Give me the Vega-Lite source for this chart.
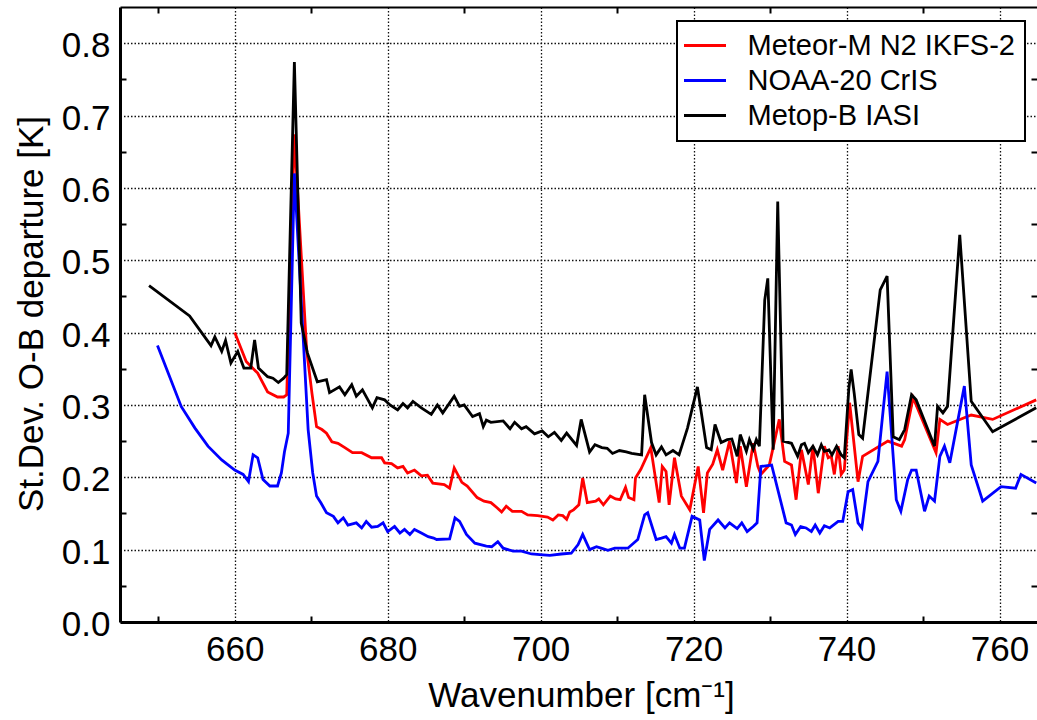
{
  "$schema": "https://vega.github.io/schema/vega-lite/v6.json",
  "width": 917,
  "height": 615,
  "autosize": "none",
  "padding": {"left": 120, "top": 7, "right": 0, "bottom": 98},
  "background": "white",
  "config": {
    "view": {"stroke": null},
    "font": "Liberation Sans",
    "axis": {"labelColor": "black", "titleColor": "black", "titleFontWeight": "normal", "labelFont": "Liberation Sans", "titleFont": "Liberation Sans"},
    "legend": {"strokeWidth": 2}
  },
  "datasets": {
    "ikfs": [
      {"wn":660.0,"sd":0.400},{"wn":661.5,"sd":0.360},{"wn":663.0,"sd":0.344},{"wn":664.3,"sd":0.318},{"wn":665.6,"sd":0.311},{"wn":666.4,"sd":0.311},{"wn":666.8,"sd":0.314},{"wn":667.8,"sd":0.674},{"wn":669.4,"sd":0.376},{"wn":670.1,"sd":0.316},{"wn":670.7,"sd":0.270},{"wn":671.4,"sd":0.266},{"wn":672.0,"sd":0.261},{"wn":672.7,"sd":0.249},{"wn":673.5,"sd":0.247},{"wn":674.4,"sd":0.241},{"wn":675.4,"sd":0.234},{"wn":676.6,"sd":0.234},{"wn":677.9,"sd":0.227},{"wn":679.2,"sd":0.227},{"wn":679.6,"sd":0.220},{"wn":680.5,"sd":0.219},{"wn":681.3,"sd":0.213},{"wn":682.0,"sd":0.215},{"wn":682.6,"sd":0.206},{"wn":683.5,"sd":0.210},{"wn":684.4,"sd":0.202},{"wn":685.2,"sd":0.203},{"wn":685.9,"sd":0.192},{"wn":687.4,"sd":0.190},{"wn":688.1,"sd":0.185},{"wn":688.7,"sd":0.213},{"wn":689.7,"sd":0.193},{"wn":690.4,"sd":0.188},{"wn":691.7,"sd":0.172},{"wn":692.6,"sd":0.167},{"wn":693.5,"sd":0.165},{"wn":694.3,"sd":0.158},{"wn":694.9,"sd":0.152},{"wn":695.5,"sd":0.160},{"wn":696.3,"sd":0.153},{"wn":697.5,"sd":0.153},{"wn":698.3,"sd":0.148},{"wn":699.6,"sd":0.147},{"wn":700.9,"sd":0.145},{"wn":701.6,"sd":0.141},{"wn":702.3,"sd":0.148},{"wn":702.9,"sd":0.147},{"wn":703.4,"sd":0.142},{"wn":703.8,"sd":0.152},{"wn":704.3,"sd":0.155},{"wn":705.0,"sd":0.162},{"wn":705.5,"sd":0.199},{"wn":706.1,"sd":0.165},{"wn":707.2,"sd":0.167},{"wn":707.6,"sd":0.170},{"wn":708.2,"sd":0.162},{"wn":709.1,"sd":0.174},{"wn":709.8,"sd":0.170},{"wn":710.4,"sd":0.169},{"wn":711.1,"sd":0.186},{"wn":711.5,"sd":0.172},{"wn":712.2,"sd":0.169},{"wn":712.4,"sd":0.199},{"wn":713.1,"sd":0.211},{"wn":714.4,"sd":0.241},{"wn":715.5,"sd":0.165},{"wn":715.9,"sd":0.215},{"wn":716.4,"sd":0.208},{"wn":716.8,"sd":0.162},{"wn":717.5,"sd":0.227},{"wn":718.4,"sd":0.174},{"wn":719.5,"sd":0.155},{"wn":720.6,"sd":0.215},{"wn":721.3,"sd":0.151},{"wn":721.8,"sd":0.206},{"wn":722.5,"sd":0.218},{"wn":723.1,"sd":0.238},{"wn":723.8,"sd":0.210},{"wn":724.7,"sd":0.250},{"wn":725.6,"sd":0.192},{"wn":726.1,"sd":0.243},{"wn":726.9,"sd":0.187},{"wn":727.8,"sd":0.247},{"wn":728.4,"sd":0.215},{"wn":728.8,"sd":0.204},{"wn":729.9,"sd":0.217},{"wn":731.2,"sd":0.280},{"wn":731.9,"sd":0.222},{"wn":732.8,"sd":0.217},{"wn":733.4,"sd":0.169},{"wn":734.1,"sd":0.238},{"wn":735.0,"sd":0.190},{"wn":735.6,"sd":0.243},{"wn":736.3,"sd":0.178},{"wn":737.1,"sd":0.243},{"wn":737.6,"sd":0.227},{"wn":738.0,"sd":0.229},{"wn":738.4,"sd":0.204},{"wn":738.9,"sd":0.243},{"wn":739.3,"sd":0.204},{"wn":739.7,"sd":0.210},{"wn":740.4,"sd":0.303},{"wn":741.5,"sd":0.194},{"wn":742.1,"sd":0.229},{"wn":745.4,"sd":0.250},{"wn":747.2,"sd":0.243},{"wn":747.6,"sd":0.252},{"wn":748.7,"sd":0.310},{"wn":751.7,"sd":0.234},{"wn":752.2,"sd":0.280},{"wn":753.2,"sd":0.273},{"wn":756.3,"sd":0.286},{"wn":759.1,"sd":0.280},{"wn":764.8,"sd":0.307}
    ],
    "cris": [
      {"wn":649.9,"sd":0.382},{"wn":651.3,"sd":0.344},{"wn":653.0,"sd":0.298},{"wn":654.8,"sd":0.268},{"wn":656.5,"sd":0.243},{"wn":658.3,"sd":0.224},{"wn":660.0,"sd":0.210},{"wn":661.1,"sd":0.204},{"wn":661.8,"sd":0.194},{"wn":662.4,"sd":0.231},{"wn":663.0,"sd":0.227},{"wn":663.7,"sd":0.197},{"wn":664.6,"sd":0.188},{"wn":665.6,"sd":0.188},{"wn":666.1,"sd":0.206},{"wn":666.5,"sd":0.235},{"wn":667.0,"sd":0.261},{"wn":667.8,"sd":0.620},{"wn":669.6,"sd":0.266},{"wn":670.2,"sd":0.206},{"wn":670.7,"sd":0.174},{"wn":671.3,"sd":0.164},{"wn":672.0,"sd":0.151},{"wn":672.9,"sd":0.146},{"wn":673.5,"sd":0.137},{"wn":674.2,"sd":0.144},{"wn":674.8,"sd":0.134},{"wn":675.9,"sd":0.137},{"wn":676.6,"sd":0.130},{"wn":677.2,"sd":0.139},{"wn":677.9,"sd":0.131},{"wn":678.7,"sd":0.132},{"wn":679.4,"sd":0.137},{"wn":680.0,"sd":0.125},{"wn":680.9,"sd":0.132},{"wn":681.6,"sd":0.123},{"wn":682.2,"sd":0.128},{"wn":682.9,"sd":0.121},{"wn":683.5,"sd":0.128},{"wn":684.4,"sd":0.123},{"wn":685.3,"sd":0.118},{"wn":686.0,"sd":0.116},{"wn":686.4,"sd":0.114},{"wn":688.1,"sd":0.115},{"wn":688.8,"sd":0.144},{"wn":689.4,"sd":0.139},{"wn":690.3,"sd":0.121},{"wn":691.4,"sd":0.109},{"wn":692.9,"sd":0.105},{"wn":693.6,"sd":0.104},{"wn":694.4,"sd":0.111},{"wn":695.1,"sd":0.102},{"wn":696.4,"sd":0.098},{"wn":697.5,"sd":0.098},{"wn":698.8,"sd":0.094},{"wn":699.9,"sd":0.093},{"wn":701.2,"sd":0.092},{"wn":702.7,"sd":0.094},{"wn":704.0,"sd":0.095},{"wn":704.9,"sd":0.107},{"wn":705.5,"sd":0.121},{"wn":706.4,"sd":0.100},{"wn":707.3,"sd":0.104},{"wn":707.9,"sd":0.102},{"wn":708.8,"sd":0.099},{"wn":709.7,"sd":0.102},{"wn":711.4,"sd":0.102},{"wn":712.7,"sd":0.114},{"wn":713.6,"sd":0.148},{"wn":714.0,"sd":0.151},{"wn":715.1,"sd":0.114},{"wn":715.8,"sd":0.116},{"wn":716.4,"sd":0.118},{"wn":717.1,"sd":0.109},{"wn":717.5,"sd":0.121},{"wn":718.2,"sd":0.102},{"wn":718.8,"sd":0.102},{"wn":719.8,"sd":0.146},{"wn":720.8,"sd":0.141},{"wn":721.4,"sd":0.085},{"wn":722.1,"sd":0.128},{"wn":723.2,"sd":0.141},{"wn":724.1,"sd":0.130},{"wn":724.7,"sd":0.137},{"wn":725.7,"sd":0.129},{"wn":726.3,"sd":0.137},{"wn":727.0,"sd":0.125},{"wn":727.8,"sd":0.132},{"wn":728.3,"sd":0.137},{"wn":728.8,"sd":0.215},{"wn":730.2,"sd":0.217},{"wn":732.1,"sd":0.137},{"wn":732.8,"sd":0.134},{"wn":733.3,"sd":0.121},{"wn":734.0,"sd":0.132},{"wn":734.7,"sd":0.130},{"wn":735.4,"sd":0.125},{"wn":735.9,"sd":0.134},{"wn":736.5,"sd":0.123},{"wn":737.1,"sd":0.133},{"wn":737.8,"sd":0.130},{"wn":738.9,"sd":0.139},{"wn":739.5,"sd":0.139},{"wn":740.2,"sd":0.180},{"wn":740.8,"sd":0.183},{"wn":741.5,"sd":0.137},{"wn":742.0,"sd":0.130},{"wn":742.8,"sd":0.194},{"wn":744.1,"sd":0.222},{"wn":745.3,"sd":0.346},{"wn":746.5,"sd":0.169},{"wn":747.1,"sd":0.153},{"wn":748.0,"sd":0.197},{"wn":748.5,"sd":0.210},{"wn":749.1,"sd":0.210},{"wn":750.2,"sd":0.153},{"wn":750.8,"sd":0.174},{"wn":751.5,"sd":0.167},{"wn":752.2,"sd":0.229},{"wn":752.8,"sd":0.243},{"wn":753.5,"sd":0.220},{"wn":755.4,"sd":0.326},{"wn":756.3,"sd":0.217},{"wn":757.8,"sd":0.167},{"wn":760.2,"sd":0.187},{"wn":762.1,"sd":0.185},{"wn":762.8,"sd":0.204},{"wn":764.8,"sd":0.192}
    ],
    "iasi": [
      {"wn":648.8,"sd":0.465},{"wn":654.1,"sd":0.423},{"wn":656.9,"sd":0.382},{"wn":657.4,"sd":0.394},{"wn":658.3,"sd":0.374},{"wn":658.8,"sd":0.389},{"wn":659.5,"sd":0.358},{"wn":660.4,"sd":0.374},{"wn":661.2,"sd":0.351},{"wn":662.1,"sd":0.351},{"wn":662.6,"sd":0.390},{"wn":663.1,"sd":0.351},{"wn":664.3,"sd":0.339},{"wn":665.0,"sd":0.337},{"wn":665.7,"sd":0.331},{"wn":666.4,"sd":0.337},{"wn":666.8,"sd":0.342},{"wn":667.8,"sd":0.774},{"wn":668.7,"sd":0.413},{"wn":669.5,"sd":0.372},{"wn":670.8,"sd":0.332},{"wn":672.0,"sd":0.335},{"wn":672.4,"sd":0.317},{"wn":673.7,"sd":0.325},{"wn":674.4,"sd":0.314},{"wn":675.3,"sd":0.328},{"wn":675.9,"sd":0.312},{"wn":676.7,"sd":0.321},{"wn":678.0,"sd":0.296},{"wn":678.6,"sd":0.310},{"wn":679.6,"sd":0.307},{"wn":680.3,"sd":0.300},{"wn":681.3,"sd":0.293},{"wn":682.0,"sd":0.302},{"wn":682.6,"sd":0.296},{"wn":683.3,"sd":0.305},{"wn":684.4,"sd":0.296},{"wn":685.7,"sd":0.287},{"wn":686.5,"sd":0.300},{"wn":687.2,"sd":0.289},{"wn":688.7,"sd":0.312},{"wn":689.4,"sd":0.298},{"wn":690.0,"sd":0.300},{"wn":691.1,"sd":0.284},{"wn":692.0,"sd":0.288},{"wn":692.5,"sd":0.270},{"wn":692.9,"sd":0.279},{"wn":693.5,"sd":0.276},{"wn":695.1,"sd":0.278},{"wn":696.0,"sd":0.267},{"wn":696.6,"sd":0.276},{"wn":697.5,"sd":0.267},{"wn":698.1,"sd":0.270},{"wn":699.2,"sd":0.260},{"wn":700.2,"sd":0.264},{"wn":701.0,"sd":0.256},{"wn":701.8,"sd":0.262},{"wn":702.7,"sd":0.251},{"wn":703.4,"sd":0.261},{"wn":704.7,"sd":0.244},{"wn":705.3,"sd":0.280},{"wn":706.4,"sd":0.235},{"wn":707.1,"sd":0.245},{"wn":708.0,"sd":0.241},{"wn":708.7,"sd":0.240},{"wn":709.4,"sd":0.233},{"wn":710.3,"sd":0.237},{"wn":711.2,"sd":0.235},{"wn":711.9,"sd":0.233},{"wn":713.2,"sd":0.231},{"wn":713.6,"sd":0.314},{"wn":714.5,"sd":0.248},{"wn":715.1,"sd":0.231},{"wn":715.8,"sd":0.242},{"wn":716.4,"sd":0.231},{"wn":717.3,"sd":0.237},{"wn":718.1,"sd":0.231},{"wn":719.2,"sd":0.268},{"wn":720.5,"sd":0.325},{"wn":721.7,"sd":0.241},{"wn":722.3,"sd":0.238},{"wn":722.8,"sd":0.273},{"wn":723.6,"sd":0.248},{"wn":724.4,"sd":0.252},{"wn":725.0,"sd":0.253},{"wn":725.7,"sd":0.229},{"wn":726.1,"sd":0.259},{"wn":726.9,"sd":0.236},{"wn":727.3,"sd":0.252},{"wn":727.8,"sd":0.239},{"wn":728.2,"sd":0.252},{"wn":728.6,"sd":0.243},{"wn":729.3,"sd":0.445},{"wn":729.7,"sd":0.475},{"wn":730.4,"sd":0.238},{"wn":731.0,"sd":0.581},{"wn":731.7,"sd":0.250},{"wn":732.8,"sd":0.247},{"wn":733.6,"sd":0.229},{"wn":734.1,"sd":0.245},{"wn":734.5,"sd":0.247},{"wn":735.0,"sd":0.234},{"wn":735.6,"sd":0.243},{"wn":736.2,"sd":0.231},{"wn":736.7,"sd":0.245},{"wn":737.1,"sd":0.236},{"wn":737.7,"sd":0.238},{"wn":738.1,"sd":0.231},{"wn":738.7,"sd":0.243},{"wn":739.3,"sd":0.231},{"wn":739.7,"sd":0.227},{"wn":740.3,"sd":0.323},{"wn":740.6,"sd":0.349},{"wn":741.0,"sd":0.316},{"wn":741.6,"sd":0.259},{"wn":742.1,"sd":0.254},{"wn":744.4,"sd":0.459},{"wn":745.3,"sd":0.478},{"wn":746.1,"sd":0.256},{"wn":746.9,"sd":0.252},{"wn":747.6,"sd":0.266},{"wn":748.5,"sd":0.314},{"wn":749.1,"sd":0.307},{"wn":751.5,"sd":0.243},{"wn":751.9,"sd":0.298},{"wn":752.6,"sd":0.289},{"wn":753.2,"sd":0.298},{"wn":754.8,"sd":0.535},{"wn":756.3,"sd":0.305},{"wn":759.1,"sd":0.263},{"wn":764.8,"sd":0.296}
    ]
  },
  "layer": [
    {
      "data": {"name": "ikfs"},
      "mark": {"type": "line", "strokeWidth": 2.8, "clip": true},
      "encoding": {
        "x": {"field": "wn", "type": "quantitative", "scale": {"domain": [645, 764.9], "nice": false, "zero": false},
          "axis": {"orient": "bottom", "values": [660, 680, 700, 720, 740, 760], "format": "d", "labelFontSize": 35, "labelPadding": 10, "labelBaseline": "top", "labelOverlap": false, "labelFlush": false, "ticks": false, "grid": true, "gridDash": [1.5, 2], "gridColor": "#111", "gridOpacity": 1, "gridWidth": 1.3, "domain": true, "domainColor": "black", "domainWidth": 3, "title": "Wavenumber [cm⁻¹]", "titleFontSize": 35, "titleX": 461, "titleY": 84.5, "titleBaseline": "alphabetic", "titleAlign": "center"}},
        "y": {"field": "sd", "type": "quantitative", "scale": {"domain": [0, 0.85], "nice": false},
          "axis": {"orient": "left", "values": [0, 0.1, 0.2, 0.3, 0.4, 0.5, 0.6, 0.7, 0.8], "format": ".1f", "labelFontSize": 35, "labelPadding": 10, "labelOffset": 2.5, "labelOverlap": false, "labelFlush": false, "ticks": false, "grid": true, "gridDash": [1.5, 2], "gridColor": "#111", "gridOpacity": 1, "gridWidth": 1.3, "domain": true, "domainColor": "black", "domainWidth": 3, "title": "St.Dev. O-B departure [K]", "titleFontSize": 35, "titleX": -78, "titleY": 306.5, "titleAngle": 270, "titleBaseline": "alphabetic", "titleAlign": "center"}},
        "color": {"datum": "Meteor-M N2 IKFS-2", "type": "nominal", "scale": {"domain": ["Meteor-M N2 IKFS-2", "NOAA-20 CrIS", "Metop-B IASI"], "range": ["#ff0000", "#0000ff", "#000000"]},
          "legend": {"orient": "none", "legendX": 557, "legendY": 14, "title": null, "symbolType": "M-2,0H2", "symbolSize": 441, "symbolStrokeWidth": 3, "symbolOffset": 3.5, "labelOffset": 28, "labelFontSize": 29, "labelFont": "Liberation Sans", "labelColor": "black", "labelLimit": 0, "padding": 10, "rowPadding": 5, "strokeColor": "black", "fillColor": "white"}}
      }
    },
    {
      "data": {"name": "cris"},
      "mark": {"type": "line", "strokeWidth": 2.8, "clip": true},
      "encoding": {
        "x": {"field": "wn", "type": "quantitative", "scale": {"domain": [645, 764.9], "nice": false, "zero": false},
          "axis": {"orient": "bottom", "values": [650, 670, 690, 710, 730, 750], "labels": false, "grid": false, "domain": false, "ticks": true, "tickSize": -6, "tickColor": "black", "tickWidth": 2, "title": null}},
        "y": {"field": "sd", "type": "quantitative", "scale": {"domain": [0, 0.85], "nice": false},
          "axis": {"orient": "left", "values": [0.05, 0.15, 0.25, 0.35, 0.45, 0.55, 0.65, 0.75], "labels": false, "grid": false, "domain": false, "ticks": true, "tickSize": -6, "tickColor": "black", "tickWidth": 2, "title": null}},
        "color": {"datum": "NOAA-20 CrIS", "type": "nominal", "scale": {"domain": ["Meteor-M N2 IKFS-2", "NOAA-20 CrIS", "Metop-B IASI"], "range": ["#ff0000", "#0000ff", "#000000"]},
          "legend": {"orient": "none", "legendX": 557, "legendY": 14, "title": null, "symbolType": "M-2,0H2", "symbolSize": 441, "symbolStrokeWidth": 3, "symbolOffset": 3.5, "labelOffset": 28, "labelFontSize": 29, "labelFont": "Liberation Sans", "labelColor": "black", "labelLimit": 0, "padding": 10, "rowPadding": 5, "strokeColor": "black", "fillColor": "white"}}
      }
    },
    {
      "data": {"name": "iasi"},
      "mark": {"type": "line", "strokeWidth": 2.8, "clip": true},
      "encoding": {
        "x": {"field": "wn", "type": "quantitative", "scale": {"domain": [645, 764.9], "nice": false, "zero": false},
          "axis": {"orient": "top", "values": [650, 670, 690, 710, 730, 750], "labels": false, "grid": false, "domain": true, "domainColor": "black", "domainWidth": 2, "ticks": true, "tickSize": -6, "tickColor": "black", "tickWidth": 2, "title": null}},
        "y": {"field": "sd", "type": "quantitative", "scale": {"domain": [0, 0.85], "nice": false},
          "axis": {"orient": "right", "values": [0.05, 0.15, 0.25, 0.35, 0.45, 0.55, 0.65, 0.75], "labels": false, "grid": false, "domain": false, "ticks": true, "tickSize": -6, "tickColor": "black", "tickWidth": 2, "title": null}},
        "color": {"datum": "Metop-B IASI", "type": "nominal", "scale": {"domain": ["Meteor-M N2 IKFS-2", "NOAA-20 CrIS", "Metop-B IASI"], "range": ["#ff0000", "#0000ff", "#000000"]},
          "legend": {"orient": "none", "legendX": 557, "legendY": 14, "title": null, "symbolType": "M-2,0H2", "symbolSize": 441, "symbolStrokeWidth": 3, "symbolOffset": 3.5, "labelOffset": 28, "labelFontSize": 29, "labelFont": "Liberation Sans", "labelColor": "black", "labelLimit": 0, "padding": 10, "rowPadding": 5, "strokeColor": "black", "fillColor": "white"}}
      }
    }
  ],
  "resolve": {"axis": {"x": "independent", "y": "independent"}}
}
